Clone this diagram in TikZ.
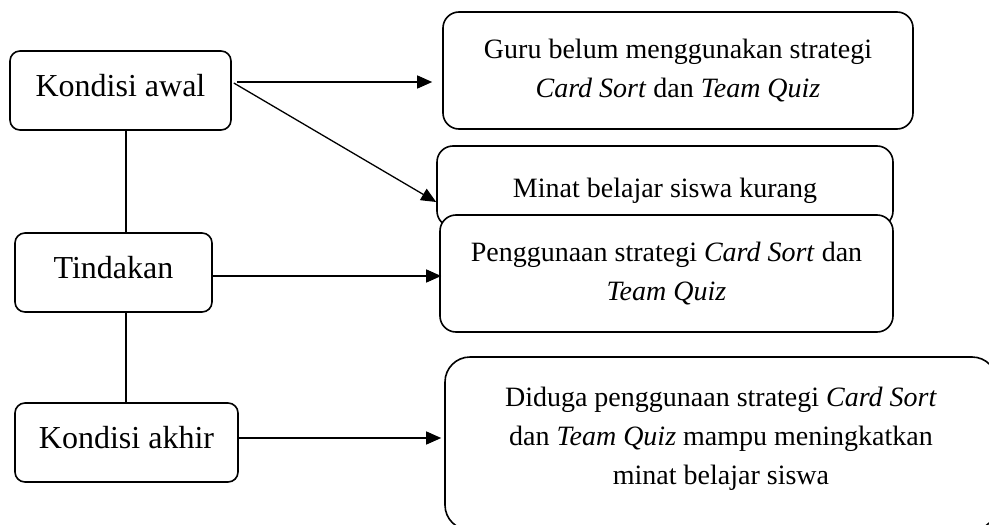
\documentclass[tikz,border=0pt]{standalone}
\usepackage{fontspec}
\setmainfont{Liberation Serif}
\usetikzlibrary{calc,arrows.meta}
\begin{document}
\begin{tikzpicture}[x=1pt,y=-1pt,
  font=\fontsize{28}{39}\selectfont,
  boxbase/.style={draw, line width=1.6pt, fill=white, inner sep=2pt, align=center},
  smallbox/.style={boxbase, font=\fontsize{32}{39}\selectfont, rounded corners=10pt, minimum height=79pt, text height=22pt, text depth=11pt},
  bigbox/.style={boxbase, rounded corners=16pt},
  conn/.style={line width=1.3pt},
  arr/.style={conn, -{Triangle[length=15pt,width=13pt]}}
]
\useasboundingbox (0,0) rectangle (989,525);
\clip (0,0) rectangle (989,525);
\fill[white] (0,0) rectangle (989,525);

% left column
\node[smallbox, minimum width=221pt] (ka) at (120.5,90.5) {Kondisi awal};
\node[smallbox, minimum width=197pt] (tin) at (113.5,272.5) {Tindakan};
\node[smallbox, minimum width=223pt] (kak) at (126.5,442.5) {Kondisi akhir};
\coordinate (spine) at (126,0);

% right column
\node[bigbox, minimum width=470pt, minimum height=117pt] (guru) at (678,70.5)
  {Guru belum menggunakan strategi\\\textit{Card Sort} dan \textit{Team Quiz}};
\node[bigbox, minimum width=456pt, minimum height=81pt, text height=30pt, text depth=9pt] (minat) at (665,186.5)
  {Minat belajar siswa kurang};
\node[bigbox, minimum width=453pt, minimum height=117pt] (peng) at (666.5,273.5)
  {Penggunaan strategi \textit{Card Sort} dan\\\textit{Team Quiz}};
\node[boxbase, rounded corners=25pt, minimum width=552pt, minimum height=173pt] (dig) at (721,443.5)
  {Diduga penggunaan strategi \textit{Card Sort}\\dan \textit{Team Quiz} mampu meningkatkan\\minat belajar siswa\rule[-16pt]{0pt}{16pt}};

% vertical spine
\draw[conn] (ka.south -| spine) -- (tin.north -| spine);
\draw[conn] (tin.south -| spine) -- (kak.north -| spine);

% arrows
\draw[arr] ($(ka.east)+(5,-8.5)$) -- ($(ka.east -| guru.west)+(-10,-8.5)$);
\draw[arr] ($(ka.east)+(2,-7.5)$) -- ($(minat.west)+(0,15.5)$);
\draw[arr] ($(tin.east)+(0,3.5)$) -- ($(tin.east -| peng.west)+(2,3.5)$);
\draw[arr] ($(kak.east)+(0,-4.5)$) -- ($(kak.east -| dig.west)+(-3,-4.5)$);
\end{tikzpicture}
\end{document}
